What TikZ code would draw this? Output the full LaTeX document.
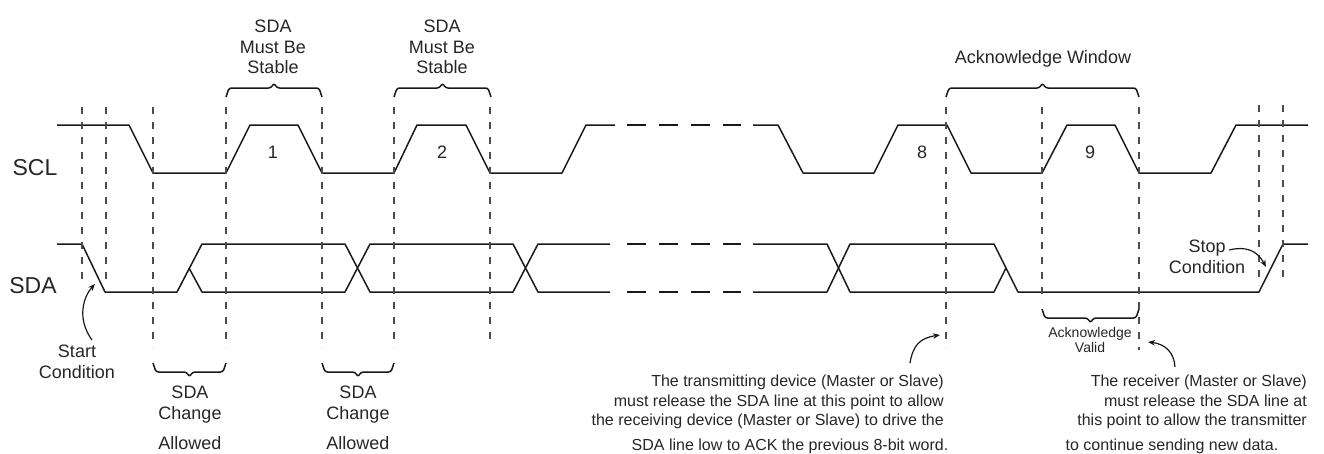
\documentclass[tikz,border=0pt]{standalone}
\usepackage{fontspec}
\setmainfont{Liberation Sans}
\usetikzlibrary{arrows.meta}
\tikzset{
  wave/.style={line width=1.5pt, draw=black!90},
  gap/.style={wave, dash pattern=on 19pt off 13pt},
  vguide/.style={line width=1.1pt, draw=black!70, dash pattern=on 7pt off 8pt},
  brc/.style={line width=1.5pt, draw=black!90, rounded corners=2.5pt},
  note/.style={inner sep=0pt, text=black!85, align=center},
  small/.style={font=\fontsize{16}{19.5}\selectfont},
  pointer/.style={line width=1.2pt, draw=black!90, ->},
}
% x ends, y of the ends, 1 = tip up, -1 = tip down
\newcommand{\timebrace}[4]{%
  \draw[brc] (#1,#3) -- ({#1+3},{#3-9*#4}) -- ({(#1+#2)/2-3},{#3-9*#4})
    -- ({(#1+#2)/2},{#3-14*#4}) -- ({(#1+#2)/2+3},{#3-9*#4})
    -- ({#2-3},{#3-9*#4}) -- (#2,#3);}
\begin{document}
\begin{tikzpicture}[x=1pt,y=-1pt,line join=round,>={Stealth[length=7pt,width=5.5pt]},font=\fontsize{18}{20.5}\selectfont]
\def\sclhi{125}
\def\scllo{173}
\def\sdahi{244}
\def\sdalo{292}
\def\sdamid{268}
\useasboundingbox (0,0) rectangle (1324,453);
% SCL
\draw[wave] (57,\sclhi) -- (129,\sclhi) -- (153,\scllo) -- (226,\scllo) -- (250,\sclhi) -- (298,\sclhi) -- (322,\scllo) -- (394,\scllo) -- (417,\sclhi) -- (466,\sclhi) -- (490,\scllo) -- (562,\scllo) -- (586,\sclhi) -- (615,\sclhi);
\draw[gap] (627,\sclhi) -- (741,\sclhi);
\draw[wave] (753,\sclhi) -- (778,\sclhi) -- (803,\scllo) -- (874,\scllo) -- (898,\sclhi) -- (947,\sclhi) -- (971,\scllo) -- (1042,\scllo) -- (1067,\sclhi) -- (1115,\sclhi) -- (1139,\scllo) -- (1211,\scllo) -- (1236,\sclhi) -- (1308,\sclhi);
% SDA
\draw[wave] (57,\sdahi) -- (82,\sdahi) -- (105,\sdalo) -- (177,\sdalo) -- (202,\sdahi) -- (345,\sdahi) -- (370,\sdalo) -- (513,\sdalo) -- (538,\sdahi) -- (610,\sdahi);
\draw[wave] (189,\sdamid) -- (202,\sdalo) -- (345,\sdalo) -- (370,\sdahi) -- (513,\sdahi) -- (538,\sdalo) -- (610,\sdalo);
\draw[gap] (627,\sdahi) -- (741,\sdahi) (627,\sdalo) -- (741,\sdalo);
\draw[wave] (753,\sdahi) -- (827,\sdahi) -- (850,\sdalo) -- (994,\sdalo) -- (1006,\sdamid);
\draw[wave] (753,\sdalo) -- (827,\sdalo) -- (850,\sdahi) -- (994,\sdahi) -- (1018,\sdalo) -- (1259,\sdalo) -- (1283,\sdahi) -- (1308,\sdahi);
% guides
\foreach \x/\ya/\yb in {82/107/283, 106/107/285, 153/107/347, 226/107/347, 322/107/347, 394/107/347, 490/107/345, 946/107/347, 1042/107/302, 1139/107/350, 1259/105/285, 1283/105/282}
  \draw[vguide] (\x,\ya) -- (\x,\yb);
% braces
\timebrace{226}{322}{97}{1}
\timebrace{394}{491}{97}{1}
\timebrace{946}{1139}{97}{1}
\timebrace{153}{226}{363}{-1}
\timebrace{322}{394}{363}{-1}
\timebrace{1042}{1139}{309}{-1}
% labels
\node[note,font=\fontsize{23}{26}\selectfont,anchor=base] (scl) at (35,175) {SCL};
\node[note,font=\fontsize{23}{26}\selectfont,anchor=base] (sda) at (33,293) {SDA};
\node[note,anchor=north] (stable1) at (273,20) {SDA\\Must Be\\Stable};
\node[note,anchor=north] (stable2) at (442,20) {SDA\\Must Be\\Stable};
\node[note,anchor=base] (ackwin) at (1043,63) {Acknowledge Window};
\node[note,anchor=base] (bit1) at (273,158) {1};
\node[note,anchor=base] (bit2) at (442,158) {2};
\node[note,anchor=base] (bit8) at (922,158) {8};
\node[note,anchor=base] (bit9) at (1090,158) {9};
\node[note,anchor=north] (start) at (77,345) {Start\\Condition};
\node[note,anchor=north] (stop) at (1207,240) {Stop\\Condition};
\node[note,anchor=north] (change1) at (190,386) {SDA\\Change\\[9.5pt]Allowed};
\node[note,anchor=north] (change2) at (358,386) {SDA\\Change\\[9.5pt]Allowed};
\node[note,font=\fontsize{14}{15}\selectfont,anchor=north] (ackvalid) at (1090,327) {Acknowledge\\Valid};
\node[note,small,align=right,anchor=north east] (xmit) at (944,375) {The transmitting device (Master or Slave)\\must release the SDA line at this point to allow\\the receiving device (Master or Slave) to drive the};
\node[note,small,anchor=base] (xmitend) at (790,450) {SDA line low to ACK the previous 8-bit word.};
\node[note,small,align=right,anchor=north east] (rcv) at (1307,375) {The receiver (Master or Slave)\\must release the SDA line at\\this point to allow the transmitter};
\node[note,small,anchor=base] (rcvend) at (1172,450) {to continue sending new data.};
% pointers
\coordinate (startedge) at (95,284);
\coordinate (stopedge) at (1266,267);
\coordinate (xmitpt) at (940,335);
\coordinate (rcvpt) at (1148,342);
\draw[pointer] ([xshift=15pt,yshift=5pt]start.north) .. controls (76,318) and (84,296) .. (startedge);
\draw[pointer] ([xshift=-16pt,yshift=-10pt]stop.north east) .. controls (1245,246) and (1257,250) .. (stopedge);
\draw[pointer] ([xshift=-34pt,yshift=12pt]xmit.north east) .. controls (913,345) and (920,338) .. (xmitpt);
\draw[pointer] ([xshift=-132pt,yshift=8pt]rcv.north east) .. controls (1174,352) and (1165,344) .. (rcvpt);
\end{tikzpicture}
\end{document}
